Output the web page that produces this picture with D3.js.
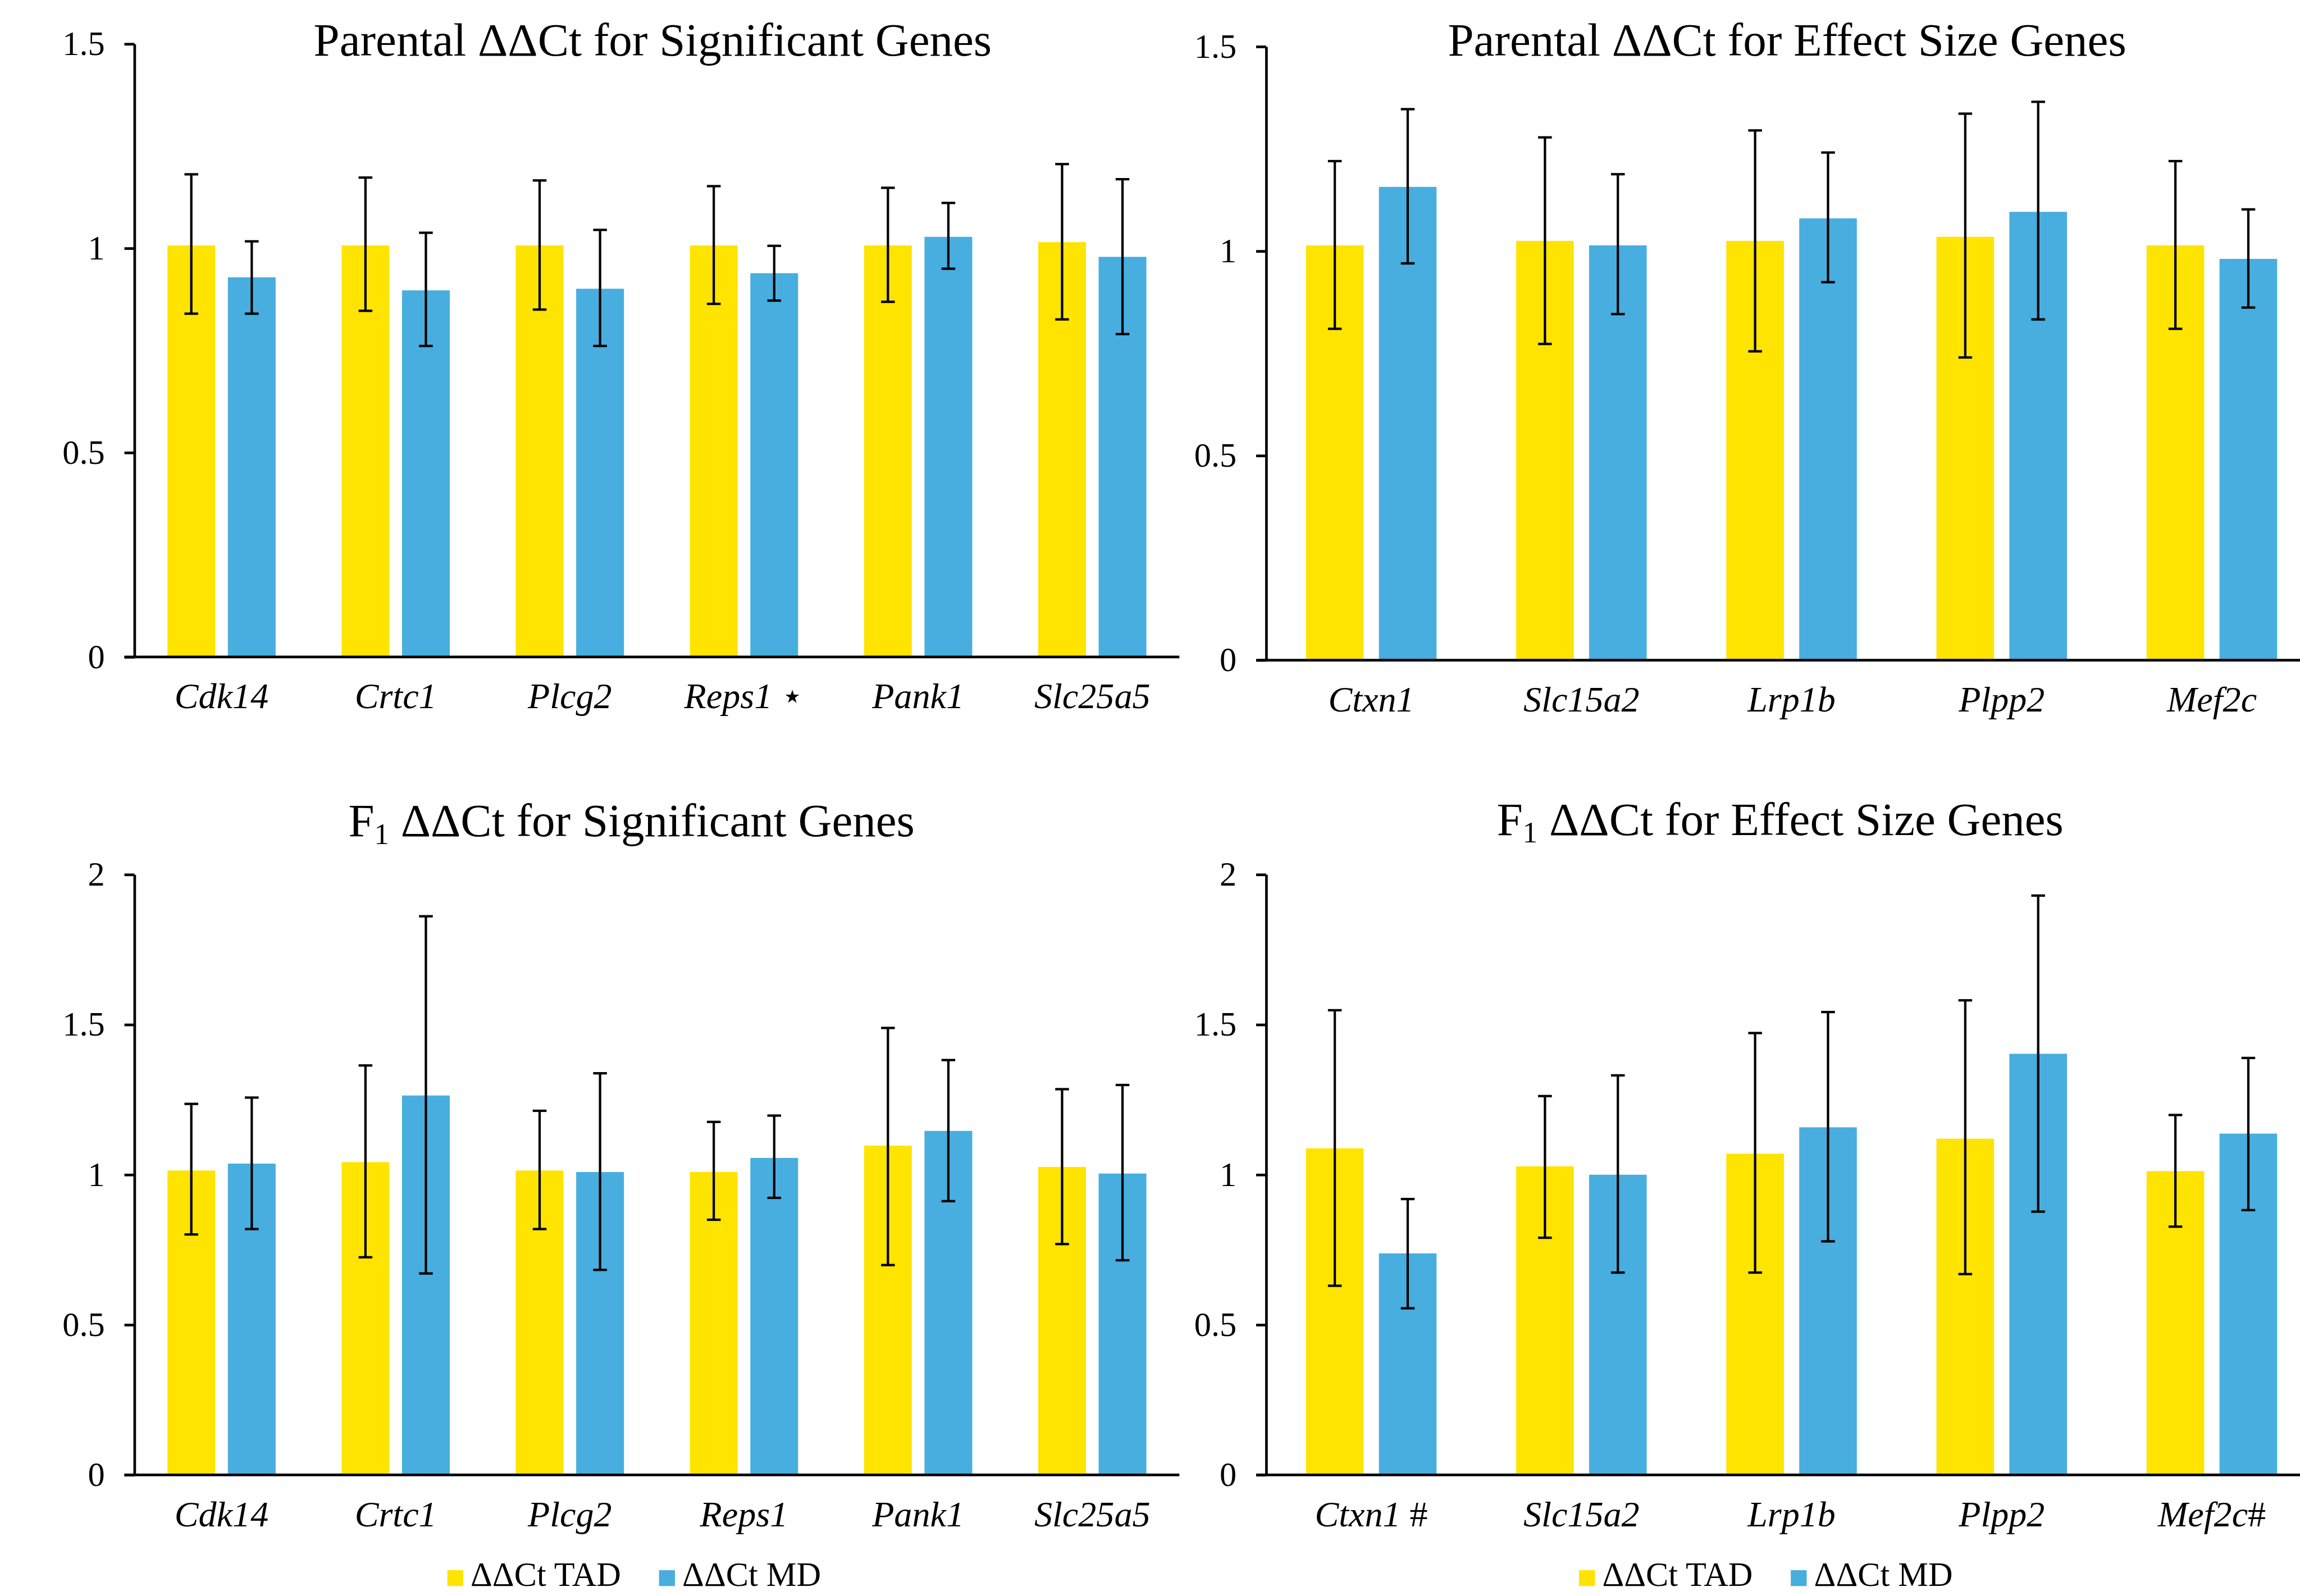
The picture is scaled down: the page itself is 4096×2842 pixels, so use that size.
<!DOCTYPE html>
<html><head><meta charset="utf-8">
<script src="https://cdn.jsdelivr.net/npm/d3@7"></script>
<style>html,body{margin:0;padding:0;background:#fff;} svg{display:block}</style>
</head><body>
<svg id="chart" width="4096" height="2842"></svg>
<script>
// ---------- DATA ----------
const seriesNames = ["ΔΔCt TAD", "ΔΔCt MD"];

const sigGenes = ["Cdk14", "Crtc1", "Plcg2", "Reps1", "Pank1", "Slc25a5"];
const effGenes = ["Ctxn1", "Slc15a2", "Lrp1b", "Plpp2", "Mef2c"];

const parSigMarks = ["", "", "", " ⋆", "", ""];
const parEffMarks = ["", "", "", "", ""];
const f1SigMarks  = ["", "", "", "", "", ""];
const f1EffMarks  = [" #", "", "", "", "#"];

const parTicks = [0, 0.5, 1, 1.5];
const f1Ticks  = [0, 0.5, 1, 1.5, 2];

// Parental – significant genes
const parSigTAD   = [1.007, 1.007, 1.007, 1.007, 1.007, 1.015];
const parSigTADHi = [1.181, 1.173, 1.166, 1.152, 1.148, 1.206];
const parSigTADLo = [0.840, 0.847, 0.850, 0.864, 0.869, 0.826];
const parSigMD    = [0.929, 0.897, 0.901, 0.939, 1.028, 0.979];
const parSigMDHi  = [1.017, 1.038, 1.045, 1.006, 1.111, 1.169];
const parSigMDLo  = [0.840, 0.761, 0.761, 0.872, 0.950, 0.790];

// Parental – effect size genes
const parEffTAD   = [1.014, 1.025, 1.025, 1.035, 1.014];
const parEffTADHi = [1.220, 1.278, 1.295, 1.336, 1.220];
const parEffTADLo = [0.810, 0.773, 0.755, 0.740, 0.810];
const parEffMD    = [1.157, 1.014, 1.080, 1.096, 0.981];
const parEffMDHi  = [1.347, 1.188, 1.241, 1.365, 1.102];
const parEffMDLo  = [0.970, 0.846, 0.924, 0.833, 0.862];

// F1 – significant genes
const f1SigTAD   = [1.014, 1.042, 1.014, 1.009, 1.097, 1.026];
const f1SigTADHi = [1.236, 1.364, 1.213, 1.176, 1.489, 1.285];
const f1SigTADLo = [0.801, 0.725, 0.819, 0.850, 0.699, 0.769];
const f1SigMD    = [1.037, 1.264, 1.009, 1.056, 1.146, 1.004];
const f1SigMDHi  = [1.257, 1.861, 1.338, 1.197, 1.382, 1.299];
const f1SigMDLo  = [0.819, 0.671, 0.683, 0.923, 0.912, 0.715];

// F1 – effect size genes
const f1EffTAD   = [1.088, 1.028, 1.070, 1.120, 1.012];
const f1EffTADHi = [1.548, 1.262, 1.472, 1.581, 1.199];
const f1EffTADLo = [0.630, 0.790, 0.674, 0.669, 0.827];
const f1EffMD    = [0.738, 1.000, 1.158, 1.403, 1.137];
const f1EffMDHi  = [0.919, 1.331, 1.542, 1.930, 1.389];
const f1EffMDLo  = [0.555, 0.674, 0.778, 0.877, 0.882];

// ---------- STYLE / LAYOUT ----------
const S = 4096 / 4345;
const colors = ["#FFE400", "#47AEDF"];
const FONT = "'Liberation Serif','Times New Roman',Times,serif";

const svg = d3.select("#chart");
svg.append("rect").attr("width", 4096).attr("height", 2842).attr("fill", "#fff");
const root = svg.append("g").attr("transform", `scale(${S})`);

const panels = [
  { cats: sigGenes, marks: parSigMarks, ticks: parTicks, max: 1.5,
    x0: 254, step: 329, yTop: 83, yBase: 1241,
    title: ["Parental ΔΔCt for Significant Genes"], tx: 1233, ty: 105, legend: false,
    series: [{v: parSigTAD, hi: parSigTADHi, lo: parSigTADLo}, {v: parSigMD, hi: parSigMDHi, lo: parSigMDLo}] },
  { cats: effGenes, marks: parEffMarks, ticks: parTicks, max: 1.5,
    x0: 2392, step: 397, yTop: 88, yBase: 1247,
    title: ["Parental ΔΔCt for Effect Size Genes"], tx: 3376, ty: 105, legend: false,
    series: [{v: parEffTAD, hi: parEffTADHi, lo: parEffTADLo}, {v: parEffMD, hi: parEffMDHi, lo: parEffMDLo}] },
  { cats: sigGenes, marks: f1SigMarks, ticks: f1Ticks, max: 2,
    x0: 254, step: 329, yTop: 1652, yBase: 2786,
    title: ["F", "1", " ΔΔCt for Significant Genes"], tx: 1193, ty: 1580, legend: true,
    series: [{v: f1SigTAD, hi: f1SigTADHi, lo: f1SigTADLo}, {v: f1SigMD, hi: f1SigMDHi, lo: f1SigMDLo}] },
  { cats: effGenes, marks: f1EffMarks, ticks: f1Ticks, max: 2,
    x0: 2392, step: 397, yTop: 1652, yBase: 2786,
    title: ["F", "1", " ΔΔCt for Effect Size Genes"], tx: 3363, ty: 1577, legend: true,
    series: [{v: f1EffTAD, hi: f1EffTADHi, lo: f1EffTADLo}, {v: f1EffMD, hi: f1EffMDHi, lo: f1EffMDLo}] }
];

function drawPanel(p) {
  const g = root.append("g");
  const x1 = p.x0 + p.step * p.cats.length;
  const x = d3.scaleBand().domain(p.cats).range([p.x0, x1]);
  const xs = d3.scaleBand().domain(seriesNames).range([0, x.bandwidth()])
    .paddingInner(0.21).paddingOuter(0.546);
  const y = d3.scaleLinear().domain([0, p.max]).range([p.yBase, p.yTop]);

  // bars
  p.series.forEach((s, si) => {
    const rows = p.cats.map((c, i) => ({ c, v: s.v[i], hi: s.hi[i], lo: s.lo[i] }));
    g.append("g").selectAll("rect").data(rows).join("rect")
      .attr("x", d => x(d.c) + xs(seriesNames[si]))
      .attr("width", xs.bandwidth())
      .attr("y", d => y(d.v))
      .attr("height", d => y(0) - y(d.v))
      .attr("fill", colors[si]);
  });

  // error bars
  p.series.forEach((s, si) => {
    const rows = p.cats.map((c, i) => ({ c, v: s.v[i], hi: s.hi[i], lo: s.lo[i] }));
    const cx = d => x(d.c) + xs(seriesNames[si]) + xs.bandwidth() / 2;
    const eg = g.append("g").attr("stroke", "#000").attr("stroke-width", 4.5).attr("fill", "none");
    eg.selectAll("line.v").data(rows).join("line").attr("class", "v")
      .attr("x1", cx).attr("x2", cx).attr("y1", d => y(d.hi)).attr("y2", d => y(d.lo));
    eg.selectAll("line.h").data(rows).join("line").attr("class", "h")
      .attr("x1", d => cx(d) - 13).attr("x2", d => cx(d) + 13).attr("y1", d => y(d.hi)).attr("y2", d => y(d.hi));
    eg.selectAll("line.l").data(rows).join("line").attr("class", "l")
      .attr("x1", d => cx(d) - 13).attr("x2", d => cx(d) + 13).attr("y1", d => y(d.lo)).attr("y2", d => y(d.lo));
  });

  // y axis
  const ya = d3.axisLeft(y).tickValues(p.ticks).tickFormat(d3.format("~g"))
    .tickSize(19).tickSizeOuter(0).tickPadding(37);
  const yg = g.append("g").attr("transform", `translate(${p.x0},0)`).call(ya);
  yg.selectAll("path.domain").attr("stroke", "#000").attr("stroke-width", 5);
  yg.selectAll(".tick line").attr("stroke", "#000").attr("stroke-width", 5);
  yg.selectAll(".tick text").attr("fill", "#000").attr("font-family", FONT).attr("font-size", 64);

  // baseline (category axis)
  const xa = d3.axisBottom(x).tickSize(0).tickSizeOuter(0).tickFormat(() => "");
  const xg = g.append("g").attr("transform", `translate(0,${y(0)})`).call(xa);
  xg.select("path.domain").remove();
  g.append("line").attr("x1", p.x0 - 19).attr("x2", x1).attr("y1", y(0)).attr("y2", y(0))
    .attr("stroke", "#000").attr("stroke-width", 5);

  // category labels
  const lab = g.append("g").selectAll("text").data(p.cats).join("text")
    .attr("x", d => x(d) + x.bandwidth() / 2)
    .attr("y", y(0) + 97)
    .attr("text-anchor", "middle")
    .attr("font-family", FONT).attr("font-size", 68).attr("fill", "#000");
  lab.append("tspan").attr("font-style", "italic").text(d => d);
  lab.append("tspan").attr("font-style", "normal")
    .text((d, i) => p.marks[i]);

  // title
  const t = root.append("text").attr("x", p.tx).attr("y", p.ty).attr("text-anchor", "middle")
    .attr("font-family", FONT).attr("font-size", 88).attr("fill", "#000");
  if (p.title.length === 1) {
    t.text(p.title[0]);
  } else {
    t.append("tspan").text(p.title[0]);
    t.append("tspan").attr("font-size", 56).attr("dy", 14).text(p.title[1]);
    t.append("tspan").attr("dy", -14).text(p.title[2]);
  }

  // legend
  if (p.legend) {
    const lg = root.append("g").attr("transform", `translate(${p.x0},0)`);
    const offs = [591, 991];
    seriesNames.forEach((n, i) => {
      lg.append("rect").attr("x", offs[i]).attr("y", 2966).attr("width", 30).attr("height", 30)
        .attr("fill", colors[i]);
      lg.append("text").attr("x", offs[i] + 44).attr("y", 2996)
        .attr("font-family", FONT).attr("font-size", 64).attr("fill", "#000").text(n);
    });
  }
}

panels.forEach(drawPanel);
</script>
</body></html>
